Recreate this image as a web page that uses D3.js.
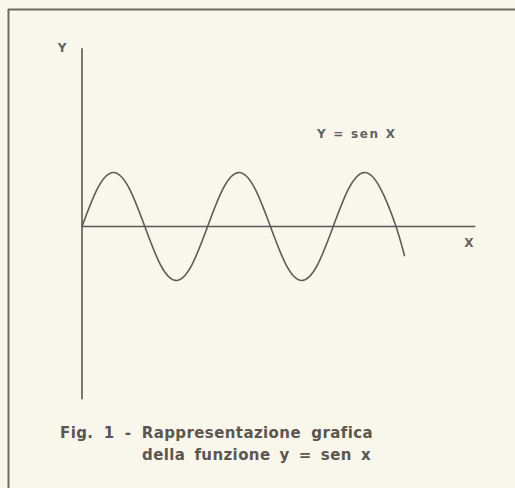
<!DOCTYPE html>
<html>
<head>
<meta charset="utf-8">
<script src="https://cdn.jsdelivr.net/npm/d3@7"></script>
<style>
  html, body { margin: 0; padding: 0; background: #f9f6ec; }
  svg { display: block; }
</style>
</head>
<body>
<svg class="canvas" width="515" height="488"></svg>
<script>
'use strict'

// Curve samples, x in steps of pi/4.
const curveSteps = [0, 1, 2, 3, 4, 5, 6, 7, 8, 9, 10, 11, 12, 13, 14, 15, 16, 17, 18, 19, 20, 20.55]
const curveValues = [0, 0.71, 1, 0.71, 0, -0.71, -1, -0.71, 0, 0.71, 1, 0.71, 0, -0.71, -1, -0.71, 0, 0.71, 1, 0.71, 0, -0.55]

// Axis extents (same units as the curve).
const xAxisExtent = [0, 25.05]
const yAxisExtent = [-3.2, 3.3]

const axisLabels = ['X', 'Y']
const curveLabel = 'Y = sen X'
const captionLines = ['Fig. 1 - Rappresentazione grafica', 'della funzione y = sen x']

const width = 515,
  height = 488

const svg = d3.select('.canvas')

const xScale = d3.scaleLinear().domain([0, 8]).range([82, 207.6]),
  yScale = d3.scaleLinear().domain([-1, 1]).range([280.5, 172.5])

const ink = '#5a5753',
  labelInk = '#65615d',
  font = 'DejaVu Sans, sans-serif'

// Stretch the gaps between words so a line spans the given width.
function fitWords(text, targetWidth) {
  const gaps = text.text().split(' ').length - 1,
    natural = text.node().getComputedTextLength()
  if (gaps > 0) text.attr('word-spacing', Math.max(0, (targetWidth - natural) / gaps))
}

// Spread the letters evenly so a label spans the given width.
function fitLetters(text, targetWidth) {
  const n = text.text().length,
    natural = text.node().getComputedTextLength()
  text.attr('letter-spacing', (targetWidth - natural) / (n - 1))
}

// Frame (top and left edge).
svg.append('line')
  .attr('x1', 8).attr('x2', width)
  .attr('y1', 9.5).attr('y2', 9.5)
  .attr('stroke', '#6d6a66').attr('stroke-width', 2)
svg.append('line')
  .attr('x1', 8.5).attr('x2', 8.5)
  .attr('y1', 9).attr('y2', height)
  .attr('stroke', '#6d6a66').attr('stroke-width', 2)

// Axes.
svg.append('line')
  .attr('x1', xScale(xAxisExtent[0])).attr('x2', xScale(xAxisExtent[1]))
  .attr('y1', yScale(0)).attr('y2', yScale(0))
  .attr('stroke', ink).attr('stroke-width', 1.6)
svg.append('line')
  .attr('x1', xScale(0)).attr('x2', xScale(0))
  .attr('y1', yScale(yAxisExtent[1])).attr('y2', yScale(yAxisExtent[0]))
  .attr('stroke', ink).attr('stroke-width', 1.6)

// Sine curve.
const points = curveSteps.map((s, i) => [s, curveValues[i]])
const line = d3.line()
  .x(d => xScale(d[0]))
  .y(d => yScale(d[1]))
  .curve(d3.curveNatural)
svg.append('path')
  .datum(points)
  .attr('d', line)
  .attr('fill', 'none')
  .attr('stroke', '#5f5c58')
  .attr('stroke-width', 1.6)

// Axis labels.
svg.append('text')
  .attr('x', 469).attr('y', 246.5)
  .attr('text-anchor', 'middle')
  .attr('font-family', font)
  .attr('font-weight', 'bold')
  .attr('font-size', 12)
  .attr('fill', labelInk)
  .text(axisLabels[0])
svg.append('text')
  .attr('x', 62).attr('y', 52)
  .attr('text-anchor', 'middle')
  .attr('font-family', font)
  .attr('font-weight', 'bold')
  .attr('font-size', 12)
  .attr('fill', labelInk)
  .text(axisLabels[1])

const curveText = svg.append('text')
  .attr('x', 317).attr('y', 137.5)
  .attr('font-family', font)
  .attr('font-weight', 'bold')
  .attr('font-size', 12)
  .attr('fill', labelInk)
  .text(curveLabel)
fitLetters(curveText, 78)

// Caption.
const captionX = [60, 142],
  captionY = [438, 460],
  captionWidth = [313, 229]
captionLines.forEach((t, i) => {
  const text = svg.append('text')
    .attr('x', captionX[i]).attr('y', captionY[i])
    .attr('font-family', font)
    .attr('font-weight', 'bold')
    .attr('font-size', 15)
    .attr('letter-spacing', 0.4)
    .attr('fill', '#5d5650')
    .text(t)
  fitWords(text, captionWidth[i])
})
</script>
</body>
</html>
